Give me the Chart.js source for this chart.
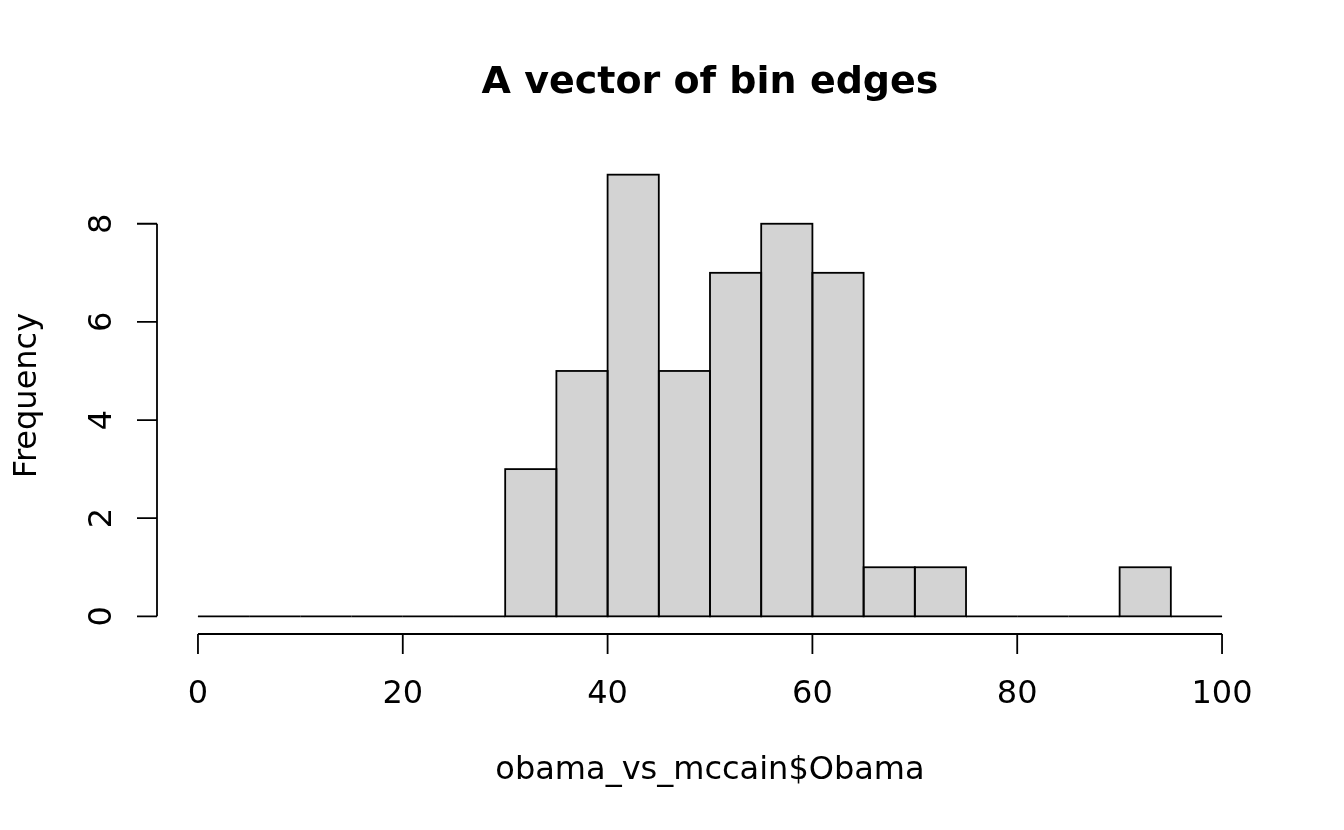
<!DOCTYPE html>
<html>
<head>
<meta charset="utf-8">
<script src="https://cdn.jsdelivr.net/npm/chart.js@4"></script>
<style>
html,body{margin:0;padding:0;background:#fff;}
#wrap{width:1344px;height:830px;}
</style>
</head>
<body>
<div id="wrap"><canvas id="c" width="1344" height="830"></canvas></div>
<script>
// Histogram data: bin edges and counts
const binEdges = [0,5,10,15,20,25,30,35,40,45,50,55,60,65,70,75,80,85,90,95,100];
const counts   = [0,0,0,0,0,0,3,5,9,5,7,8,7,1,1,0,0,0,1,0];
const xTicks = [0,20,40,60,80,100];
const yTicks = [0,2,4,6,8];
const titleText = "A vector of bin edges";
const xTitle = "obama_vs_mccain$Obama";
const yTitle = "Frequency";

const barData = counts.map((c,i)=>({x:(binEdges[i]+binEdges[i+1])/2, y:c}));

const FONT = '"DejaVu Sans", sans-serif';
const LW = 1.8;

const rPlugin = {
  id: 'rstyle',
  afterDatasetsDraw(chart){
    const ctx = chart.ctx;
    const xs = chart.scales.x;
    const meta = chart.getDatasetMeta(0);
    ctx.save();
    ctx.strokeStyle = '#000';
    ctx.lineWidth = LW;
    meta.data.forEach((el,i)=>{
      const p = el.getProps(['y','base'], true);
      const l = xs.getPixelForValue(binEdges[i]), r = xs.getPixelForValue(binEdges[i+1]);
      ctx.strokeRect(l, Math.min(p.y,p.base), r-l, Math.abs(p.base-p.y));
    });
    ctx.restore();
  },
  afterDraw(chart){
    const ctx = chart.ctx;
    const xs = chart.scales.x, ys = chart.scales.y;
    const area = chart.chartArea;
    ctx.save();
    ctx.strokeStyle = '#000';
    ctx.fillStyle = '#000';
    ctx.lineWidth = LW;
    const tick = 20;
    // x axis
    const ay = area.bottom;
    ctx.beginPath();
    ctx.moveTo(xs.getPixelForValue(xTicks[0]), ay);
    ctx.lineTo(xs.getPixelForValue(xTicks[xTicks.length-1]), ay);
    xTicks.forEach(t=>{
      const px = xs.getPixelForValue(t);
      ctx.moveTo(px, ay); ctx.lineTo(px, ay+tick);
    });
    ctx.stroke();
    ctx.font = '32px ' + FONT;
    ctx.textAlign = 'center';
    ctx.textBaseline = 'alphabetic';
    xTicks.forEach(t=>{
      ctx.fillText(String(t), xs.getPixelForValue(t), 703);
    });
    // y axis
    const ax = area.left;
    ctx.beginPath();
    ctx.moveTo(ax, ys.getPixelForValue(yTicks[0]));
    ctx.lineTo(ax, ys.getPixelForValue(yTicks[yTicks.length-1]));
    yTicks.forEach(t=>{
      const py = ys.getPixelForValue(t);
      ctx.moveTo(ax, py); ctx.lineTo(ax-tick, py);
    });
    ctx.stroke();
    yTicks.forEach(t=>{
      ctx.save();
      ctx.translate(111, ys.getPixelForValue(t));
      ctx.rotate(-Math.PI/2);
      ctx.fillText(String(t), 0, 0);
      ctx.restore();
    });
    // titles
    ctx.font = 'bold 38px ' + FONT;
    ctx.fillText(titleText, (area.left+area.right)/2, 93);
    ctx.font = '32px ' + FONT;
    ctx.fillText(xTitle, (area.left+area.right)/2, 779);
    ctx.save();
    ctx.translate(36, (area.top+area.bottom)/2);
    ctx.rotate(-Math.PI/2);
    ctx.fillText(yTitle, 0, 0);
    ctx.restore();
    ctx.restore();
  }
};

new Chart(document.getElementById('c'), {
  type: 'bar',
  data: {
    datasets: [{
      data: barData,
      backgroundColor: '#D3D3D3',
      borderWidth: 0,
      barPercentage: 1.0,
      categoryPercentage: 1.0,
      grouped: false
    }]
  },
  options: {
    responsive: false,
    animation: false,
    devicePixelRatio: 1,
    datasets: { bar: { barPercentage: 1.0, categoryPercentage: 1.0 } },
    layout: { padding: { left: 157, right: 81, top: 157, bottom: 196 } },
    plugins: { legend: {display:false}, title:{display:false}, tooltip:{enabled:false} },
    scales: {
      x: { type: 'linear', min: -4, max: 104, offset: false, display: false, grid:{display:false},
           afterBuildTicks: s => { s.ticks = binEdges.map(v => ({value: v})); } },
      y: { type: 'linear', min: -0.36, max: 9.36, display: false, grid:{display:false} }
    }
  },
  plugins: [rPlugin]
});
</script>
</body>
</html>
